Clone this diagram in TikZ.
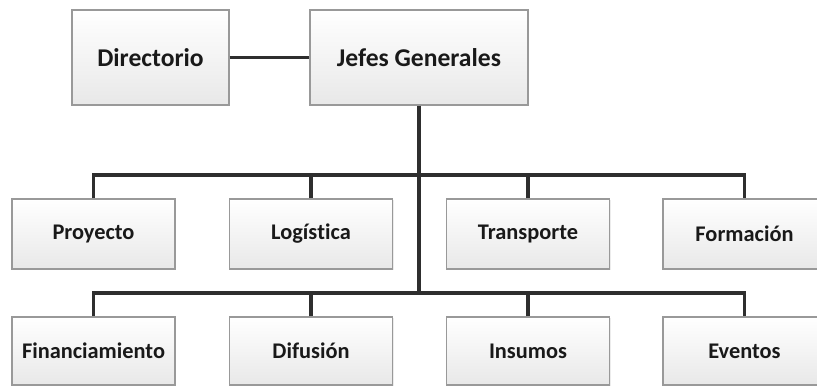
\documentclass[tikz,border=0pt]{standalone}
\usepackage{fontspec}
\setmainfont{Carlito}[RawFeature={-liga;-dlig;-clig;-calt}]
\usepackage{tikz}
\usetikzlibrary{shadows,positioning,calc}

\begin{document}
\begin{tikzpicture}[x=0.025cm, y=-0.025cm,
  box/.style={draw=gray!80, line width=1pt, top color=white, bottom color=gray!18,
    drop shadow={opacity=0.15, shadow xshift=1pt, shadow yshift=-1pt},
    font=\bfseries\fontsize{15.9}{18}\selectfont, text=black!90, inner sep=0pt},
  topbox/.style={box, minimum height=95*0.025cm, font=\bfseries\fontsize{18.2}{21}\selectfont},
  unit/.style={box, minimum width=163*0.025cm, minimum height=70*0.025cm},
  link/.style={line width=2.6pt, color=black!82}]
\useasboundingbox (0,0) rectangle (817,388);
\clip (0,0) rectangle (817,388);
\node[topbox, minimum width=157*0.025cm] (dir) at (150.5,57.5) {Directorio};
\node[topbox, minimum width=218*0.025cm] (jefes) at (419,57.5) {Jefes Generales};
\node[unit] (proy) at (93.5,234) {Proyecto};
\node[unit] (logi) at (311,234) {Logís\kern0pt tica};
\node[unit] (trans) at (528,234) {Transporte};
\node[unit] (form) at (744.5,234) {Formación};
\node[unit, minimum height=68*0.025cm] (fin) at (93.5,351) {Financiamiento};
\node[unit, minimum height=68*0.025cm] (dif) at (311,351) {Difusión};
\node[unit, minimum height=68*0.025cm] (ins) at (528,351) {Insumos};
\node[unit, minimum height=68*0.025cm] (ev) at (744.5,351) {Eventos};
\coordinate (bus1) at (419,175);
\coordinate (bus2) at (419,293);
\draw[link] (dir) -- (jefes);
\draw[link] (jefes.south) -- (bus2);
\draw[link] (proy.north) |- (bus1) -| (form.north);
\draw[link] (logi.north) -- (logi.north |- bus1);
\draw[link] (trans.north) -- (trans.north |- bus1);
\draw[link] (fin.north) |- (bus2) -| (ev.north);
\draw[link] (dif.north) -- (dif.north |- bus2);
\draw[link] (ins.north) -- (ins.north |- bus2);
\end{tikzpicture}
\end{document}
